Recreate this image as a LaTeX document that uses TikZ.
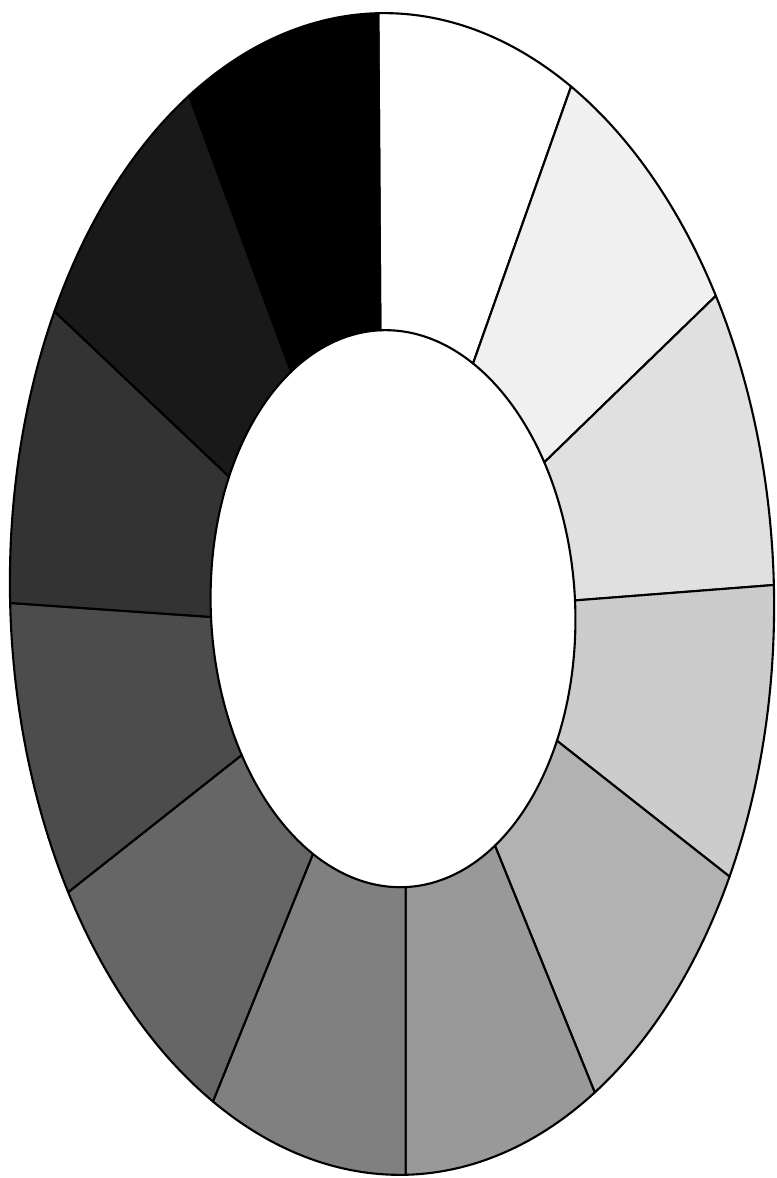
\documentclass[tikz,border=0pt]{standalone}
\usepackage{tikz}

\begin{document}
\begin{tikzpicture}[ringpart/.style={draw=black,line width=0.6pt,line join=round},
	declare function={
		ox(\t)=3.92+3.82*cos(\t)*cos(1.35)-5.81*sin(\t)*sin(1.35);
		oy(\t)=5.84+3.82*cos(\t)*sin(1.35)+5.81*sin(\t)*cos(1.35);
		ix(\t)=3.93+1.822*cos(\t)*cos(2.6)-2.787*sin(\t)*sin(2.6);
		iy(\t)=5.693+1.822*cos(\t)*sin(2.6)+2.787*sin(\t)*cos(2.6);
	}]
	\useasboundingbox (0,0) rectangle (7.76,11.78);
	\foreach \g [count=\i from 0] in {100,94,88,80,70,60,50,40,30,20,10,0} {
		\pgfmathsetmacro\a{90-30*\i}
		\pgfmathsetmacro\b{60-30*\i}
		\draw[ringpart,fill=white!\g!black]
			plot[domain=\a:\b,samples=30,variable=\t] ({ox(\t)},{oy(\t)})
			-- plot[domain=\b:\a,samples=30,variable=\t] ({ix(\t)},{iy(\t)})
			-- cycle;
	}
\end{tikzpicture}
\end{document}
